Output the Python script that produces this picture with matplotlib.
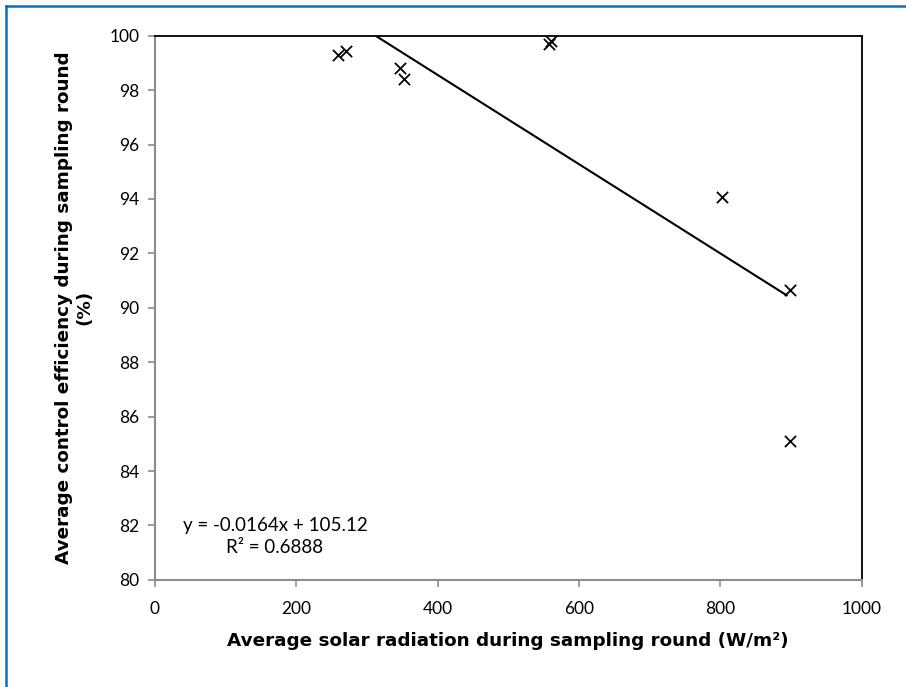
import matplotlib.pyplot as plt
from matplotlib.lines import Line2D

# solar radiation (W/m2) vs control efficiency (%)
radiation = [259, 271, 347, 352, 558, 561, 802, 899, 899]
efficiency = [99.30, 99.45, 98.80, 98.40, 99.70, 99.80, 94.06, 90.66, 85.12]

# linear trend shown on the chart
slope = -0.0164
intercept = 105.12
r_squared = 0.6888

fig = plt.figure(figsize=(9.06, 6.87), dpi=100)
ax = fig.add_axes([0.171, 0.156, 0.780, 0.792])

ax.scatter(radiation, efficiency, marker="x", s=65, color="black",
           linewidths=1.3, zorder=3, clip_on=False)

# trendline over the data range, cut at the top of the plot
x0, x1 = min(radiation), max(radiation) - 5
ax.plot([x0, x1], [slope * x0 + intercept, slope * x1 + intercept],
        color="black", lw=1.5)

ax.set_xlim(0, 1000)
ax.set_ylim(80, 100)
ax.set_xticks(range(0, 1001, 200))
ax.set_yticks(range(80, 101, 2))

for side in ("left", "bottom"):
    ax.spines[side].set_color("#8c8c8c")
    ax.spines[side].set_linewidth(1.5)
for side in ("top", "right"):
    ax.spines[side].set_color("black")
    ax.spines[side].set_linewidth(1.3)
ax.tick_params(direction="out", length=5, width=1.2, color="#8c8c8c",
               labelsize=12.5)
ax.tick_params(axis="x", pad=10)
ax.tick_params(axis="y", pad=6)
for lab in ax.get_xticklabels() + ax.get_yticklabels():
    lab.set_family("Lato")

ax.set_xlabel("Average solar radiation during sampling round (W/m²)",
              fontsize=13.2, fontweight="bold", family="DejaVu Sans",
              labelpad=11)
ax.set_ylabel("Average control efficiency during sampling round\n(%)",
              fontsize=13.2, fontweight="bold", family="DejaVu Sans",
              labelpad=12, linespacing=1.15)

ax.text(0.170, 0.079, f"y = {slope}x + {intercept}\nR² = {r_squared}",
        transform=ax.transAxes, ha="center", va="center", fontsize=13.5,
        family="Lato", linespacing=1.35)

# blue frame on the left and top edges
blue = "#0070C0"
fig.add_artist(Line2D([6 / 906, 6 / 906], [0, 1 - 6 / 687],
                      transform=fig.transFigure, color=blue, lw=1.8))
fig.add_artist(Line2D([6 / 906, 1], [1 - 6 / 687, 1 - 6 / 687],
                      transform=fig.transFigure, color=blue, lw=1.8))

fig.savefig("out.png", dpi=100)
